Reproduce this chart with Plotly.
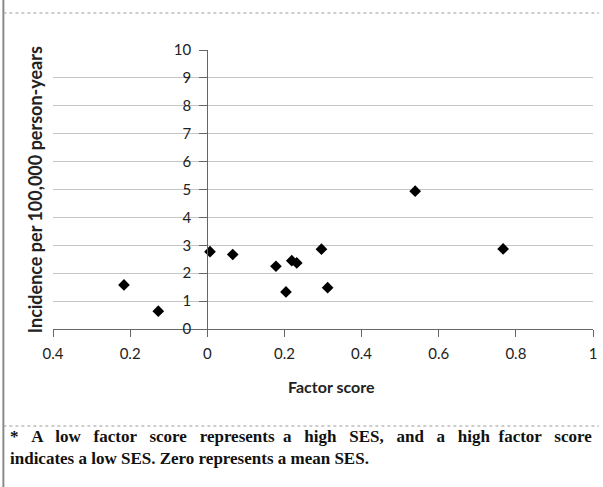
import plotly.graph_objects as go

# ---- data ----
factor_score = [-0.216, -0.127, 0.007, 0.066, 0.178, 0.204, 0.219, 0.232, 0.296, 0.312, 0.539, 0.767]
incidence = [1.58, 0.64, 2.77, 2.67, 2.25, 1.33, 2.45, 2.37, 2.86, 1.48, 4.94, 2.87]
x_tickvals = [-0.4, -0.2, 0, 0.2, 0.4, 0.6, 0.8, 1]
x_ticktext = ["0.4", "0.2", "0", "0.2", "0.4", "0.6", "0.8", "1"]
y_tickvals = list(range(0, 11))
x_title = "Factor score"
y_title = "Incidence per 100,000 person-years"
note_line1 = "* A low factor score represents a high SES, and a high factor score"
note_line2 = "indicates a low SES. Zero represents a mean SES."

W, H = 603, 487
L, R, T, B = 53, 597, 50, 329  # plot area in pixels


def px(xp):
    return (xp - L) / (R - L)


def py(yp):
    return (B - yp) / (B - T)


def justify(s):
    # widen inter-word gaps to emulate justified text
    words = s.split(" ")
    out = words[0]
    for i, w in enumerate(words[1:]):
        gap = " \u00a0\u00a0" if i % 6 != 5 else " \u00a0"
        out += gap + w
    return out


tick_font = dict(family="Lato", size=15, color="#222222")

fig = go.Figure()
fig.add_trace(go.Scatter(
    x=factor_score, y=incidence, mode="markers",
    marker=dict(symbol="diamond", size=9, color="black"),
    showlegend=False, cliponaxis=False,
))

fig.update_layout(
    width=W, height=H,
    margin=dict(l=L, r=W - R, t=T, b=H - B),
    plot_bgcolor="white", paper_bgcolor="white",
    xaxis=dict(
        range=[-0.4, 1], tickvals=x_tickvals, ticktext=x_ticktext,
        showgrid=False, zeroline=False, showline=True, linecolor="#666666", linewidth=1.3,
        ticks="outside", ticklen=7, tickcolor="#666666", tickwidth=1.3,
        tickfont=tick_font, ticklabelstandoff=4,
    ),
    yaxis=dict(
        range=[0, 10], tickvals=y_tickvals,
        anchor="free", position=(0 - (-0.4)) / 1.4,
        showgrid=True, gridcolor="#c4c4c4", gridwidth=1,
        zeroline=False, showline=True, linecolor="#666666", linewidth=1.3,
        ticks="outside", ticklen=8, tickcolor="#666666", tickwidth=1.3,
        tickfont=tick_font, ticklabelstandoff=5,
    ),
    shapes=[
        # white band behind the y tick labels (interrupts gridlines)
        dict(type="rect", xref="x", yref="paper", x0=-0.1, x1=0, y0=-0.01, y1=1.02,
             fillcolor="white", line=dict(width=0), layer="between"),
        # left border
        dict(type="line", xref="paper", yref="paper", x0=px(3), x1=px(3), y0=py(0), y1=py(H),
             line=dict(color="#8a8a8a", width=2)),
        # dotted separators
        dict(type="line", xref="paper", yref="paper", x0=px(3), x1=px(W), y0=py(13), y1=py(13),
             line=dict(color="#9a9a9a", width=1, dash="dot")),
        dict(type="line", xref="paper", yref="paper", x0=px(3), x1=px(W), y0=py(426), y1=py(426),
             line=dict(color="#9a9a9a", width=1, dash="dot")),
    ],
    annotations=[
        dict(text="<b>" + x_title + "</b>", xref="paper", yref="paper", x=px(334), y=py(398),
             showarrow=False, font=dict(family="Lato", size=16, color="#222222")),
        dict(text="<b>" + y_title + "</b>", xref="paper", yref="paper", x=px(22), y=py(190),
             textangle=-90, showarrow=False, font=dict(family="Lato", size=18, color="#222222")),
        dict(text="<b>" + justify(note_line1) + "</b>", xref="paper", yref="paper",
             x=px(8), y=py(448), xanchor="left", showarrow=False,
             font=dict(family="Liberation Serif", size=17, color="#111111")),
        dict(text="<b>" + note_line2 + "</b>", xref="paper", yref="paper", x=px(8), y=py(470),
             xanchor="left", showarrow=False,
             font=dict(family="Liberation Serif", size=17, color="#111111")),
    ],
)

fig.write_html("out.html")
